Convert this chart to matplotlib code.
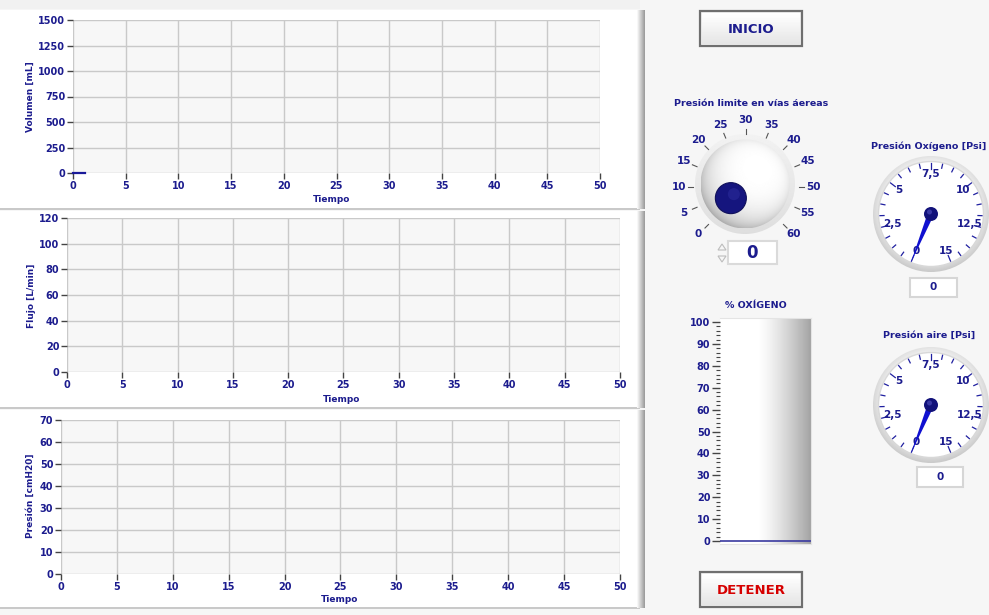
import numpy as np
import matplotlib
matplotlib.use("Agg")
import matplotlib.pyplot as plt
from matplotlib.patches import Rectangle, Circle, Polygon

#-------------------------------------------------------------------------------
# datos del panel

tiempo_ticks = [0, 5, 10, 15, 20, 25, 30, 35, 40, 45, 50]
volumen_ticks = [0, 250, 500, 750, 1000, 1250, 1500]
flujo_ticks = [0, 20, 40, 60, 80, 100, 120]
presion_ticks = [0, 10, 20, 30, 40, 50, 60, 70]

vol_t = [0, 1.1]
vol_v = [0, 0]
flujo_t = []
flujo_v = []
presion_t = []
presion_v = []

knob_labels = [0, 5, 10, 15, 20, 25, 30, 35, 40, 45, 50, 55, 60]
knob_value = 0

gauge_vals = [0, 2.5, 5, 7.5, 10, 12.5, 15]
gauge_text = ["0", "2,5", "5", "7,5", "10", "12,5", "15"]
oxigeno_psi = 0
aire_psi = 0

oxigeno_ticks = [0, 10, 20, 30, 40, 50, 60, 70, 80, 90, 100]
oxigeno_pct = 0

#-------------------------------------------------------------------------------

W, H = 989, 615
NAVY = "#1c1c8e"
plt.rcParams['font.family'] = ['DejaVu Sans']

fig = plt.figure(figsize=(W / 100, H / 100), dpi=100)
fig.patch.set_facecolor("#f6f6f6")

bg = fig.add_axes([0, 0, 1, 1])
bg.set_xlim(0, W)
bg.set_ylim(H, 0)
bg.axis("off")


def px_rect(x0, y0, x1, y1):
    return [x0 / W, 1 - y1 / H, (x1 - x0) / W, (y1 - y0) / H]


def gradient_img(arr, x0, y0, x1, y1, clip=None, cmap="gray"):
    im = bg.imshow(arr, extent=(x0, x1, y1, y0), origin="upper", cmap=cmap,
                   vmin=0, vmax=1, aspect="auto", zorder=2, interpolation="bilinear")
    if clip is not None:
        im.set_clip_path(clip)
    return im


# paneles blancos de las graficas
for (y0, y1) in [(10, 208), (211, 407), (410, 607)]:
    bg.add_patch(Rectangle((0, y0), 638, y1 - y0, facecolor="white", edgecolor="none", zorder=1))
    bg.add_patch(Rectangle((0, y1), 640, 2, facecolor="#c9c9c9", edgecolor="none", zorder=1))
    strip = np.tile(np.linspace(0.97, 0.62, 8), (4, 1))
    gradient_img(strip, 637, y0, 645, y1 + 1)
bg.add_patch(Rectangle((0, 0), 640, 9, facecolor="#f1f1f1", edgecolor="none", zorder=1))

#-------------------------------------------------------------------------------
# graficas


def chart(x0, x1, ytop, ybot, yticks, t, v, ylabel, lx, ly, tx, ty):
    ax = fig.add_axes(px_rect(x0, ytop, x1, ybot))
    ax.set_facecolor("#f7f7f7")
    ax.set_xlim(0, 50)
    ax.set_ylim(yticks[0], yticks[-1])
    ax.set_xticks(tiempo_ticks)
    ax.set_yticks(yticks)
    ax.grid(True, color="#c9c9c9", lw=1)
    ax.set_axisbelow(True)
    for s in ax.spines.values():
        s.set_visible(False)
    ax.tick_params(colors="#444444", labelcolor=NAVY, length=4, width=1,
                   labelsize=7, pad=1.5)
    for lab in ax.get_xticklabels() + ax.get_yticklabels():
        lab.set_fontweight("bold")
    ax.plot(t, v, color="#1a1a9a", lw=1.6, clip_on=False)
    bg.text(lx, ly, ylabel, rotation=90, ha="center", va="center", color=NAVY,
            fontsize=6.5, fontweight="bold", zorder=5)
    bg.text(tx, ty, "Tiempo", ha="center", va="center", color=NAVY,
            fontsize=6.5, fontweight="bold", zorder=5)
    return ax


chart(73, 600, 20, 173, volumen_ticks, vol_t, vol_v, "Volumen [mL]", 30, 97, 332, 200)
chart(67, 620, 218, 372, flujo_ticks, flujo_t, flujo_v, "Flujo [L/min]", 32, 296, 342, 399)
chart(61, 620, 420, 574, presion_ticks, presion_t, presion_v, "Presión [cmH20]", 30, 496, 340, 599)

#-------------------------------------------------------------------------------
# botones


def button(x0, y0, x1, y1, label, color):
    bg.add_patch(Rectangle((x0, y0), x1 - x0, y1 - y0, facecolor="#f3f3f3",
                           edgecolor="#6f6f6f", lw=1.6, zorder=3))
    g = np.tile(np.linspace(1.0, 0.9, 20)[:, None], (1, 4))
    gradient_img(g, x0 + 2, y0 + 2, x1 - 2, y1 - 2).set_zorder(3.5)
    bg.text((x0 + x1) / 2, (y0 + y1) / 2 + 1, label, ha="center", va="center",
            color=color, fontsize=9.5, fontweight="bold", zorder=5)


button(700, 11, 802, 46, "INICIO", NAVY)
button(700, 572, 802, 607, "DETENER", "#d60000")

#-------------------------------------------------------------------------------
# perilla de presion limite

kcx, kcy = 745, 184
lcx, lcy = 746, 187
bg.text(751, 103, "Presión limite en vías áereas", ha="center", va="center",
        color=NAVY, fontsize=6.8, fontweight="bold", zorder=5)


def knob_angle(v):
    return np.radians(-135 + 270 * (v - knob_labels[0]) / (knob_labels[-1] - knob_labels[0]))


for v in knob_labels:
    a = knob_angle(v)
    s, c = np.sin(a), np.cos(a)
    bg.plot([lcx + 53 * s, lcx + 58 * s], [lcy - 53 * c, lcy - 58 * c],
            color="#555555", lw=0.8, zorder=4)
    bg.text(lcx + 67 * s, lcy - 67 * c, str(v), ha="center", va="center",
            color=NAVY, fontsize=7.5, fontweight="bold", zorder=5)

yy, xx = np.mgrid[-1:1:120j, -1:1:120j]
rr = np.sqrt(xx ** 2 + yy ** 2)
halo = Circle((kcx, kcy), 50, transform=bg.transData)
gradient_img(0.91 + 0.04 * (-yy), kcx - 50, kcy - 50, kcx + 50, kcy + 50, clip=halo)
sph = Circle((kcx, kcy), 44.5, transform=bg.transData)
d = np.sqrt((xx - 0.3) ** 2 + (yy + 0.35) ** 2)
shade = 1.0 - 0.24 * (d / 1.45) ** 3 - 0.06 * rr ** 10
gradient_img(np.clip(shade, 0, 1), kcx - 44.5, kcy - 44.5, kcx + 44.5, kcy + 44.5,
             clip=sph).set_zorder(3)

a = knob_angle(knob_value)
dx, dy = kcx + 20 * np.sin(a), kcy - 20 * np.cos(a)
bg.add_patch(Circle((dx, dy), 15.5, facecolor="#15157e", edgecolor="#10105a", lw=0.8, zorder=6))
bg.add_patch(Circle((dx + 3, dy - 4), 6, facecolor="#2a2a9a", edgecolor="none", alpha=0.6, zorder=6))

# control numerico
bg.add_patch(Rectangle((728, 241), 49, 23, facecolor="white", edgecolor="#dadada", lw=1.5, zorder=3))
bg.text(752, 253, str(knob_value), ha="center", va="center", color=NAVY,
        fontsize=12, fontweight="bold", zorder=5)
bg.add_patch(Polygon([[718, 250], [722, 244], [726, 250]], closed=True,
                     facecolor="none", edgecolor="#bdbdbd", lw=0.8, zorder=4))
bg.add_patch(Polygon([[718, 256], [722, 262], [726, 256]], closed=True,
                     facecolor="none", edgecolor="#bdbdbd", lw=0.8, zorder=4))

#-------------------------------------------------------------------------------
# tanque % oxigeno

bg.text(756, 306, "% OXÍGENO", ha="center", va="center", color=NAVY,
        fontsize=6.8, fontweight="bold", zorder=5)
per_px = 100 / (541 - 322)
tk = fig.add_axes(px_rect(720, 318, 811, 544))
tk.set_xlim(0, 1)
tk.set_ylim(-3 * per_px, 100 + 4 * per_px)
gx = np.linspace(0, 1, 200)
tank_shade = np.where(gx < 0.42, 1.0, 1.0 - 0.36 * ((gx - 0.42) / 0.58) ** 1.3)
tk.imshow(np.tile(tank_shade, (4, 1)), extent=(0, 1, 0, 1), transform=tk.transAxes,
          cmap="gray", vmin=0, vmax=1, aspect="auto", zorder=0)
tk.bar(0.5, oxigeno_pct, width=1, color="#1c1c8e", zorder=1)
tk.axhline(oxigeno_pct, color="#3a3aa0", lw=1.2, zorder=2)
tk.set_xticks([])
tk.set_yticks(oxigeno_ticks)
tk.set_yticks(np.arange(0, 101, 2), minor=True)
for s in ["top", "right", "bottom"]:
    tk.spines[s].set_color("#e4e4e4")
tk.spines["left"].set_visible(False)
tk.tick_params(axis="y", which="major", colors="#444444", labelcolor=NAVY,
               length=6, width=1, labelsize=7, pad=1)
tk.tick_params(axis="y", which="minor", colors="#444444", length=3, width=0.8)
for lab in tk.get_yticklabels():
    lab.set_fontweight("bold")

#-------------------------------------------------------------------------------
# manometros


def gauge_angle(v):
    return np.radians(-157.5 + 315 * (v - gauge_vals[0]) / (gauge_vals[-1] - gauge_vals[0]))


def gauge(cx, cy, title, tx, ty, tha, value, box):
    bg.text(tx, ty, title, ha=tha, va="center", color=NAVY, fontsize=6.8,
            fontweight="bold", zorder=5)
    rim = Circle((cx, cy), 58, transform=bg.transData)
    rim_shade = 0.9 + 0.05 * (-yy) - 0.06 * np.clip((rr - 0.9) / 0.1, 0, 1)
    gradient_img(rim_shade, cx - 58, cy - 58, cx + 58, cy + 58, clip=rim)
    bg.add_patch(Circle((cx, cy), 52.5, facecolor="white", edgecolor="#d8d8d8", lw=1.0, zorder=3))
    for v in np.arange(0, 15.01, 0.625):
        a = gauge_angle(v)
        s, c = np.sin(a), np.cos(a)
        r0 = 45 if v % 2.5 == 0 else 47
        bg.plot([cx + r0 * s, cx + 51 * s], [cy - r0 * c, cy - 51 * c],
                color="#2020a0", lw=0.9, zorder=4)
    for v, t in zip(gauge_vals, gauge_text):
        a = gauge_angle(v)
        bg.text(cx + 40 * np.sin(a), cy - 40 * np.cos(a), t, ha="center", va="center",
                color=NAVY, fontsize=7.5, fontweight="bold", zorder=5)
    a = gauge_angle(value)
    s, c = np.sin(a), np.cos(a)
    px, py = -c, -s
    tip = (cx + 53 * s, cy - 53 * c)
    base1 = (cx + 4.5 * px, cy - 4.5 * py)
    base2 = (cx - 4.5 * px, cy + 4.5 * py)
    bg.add_patch(Polygon([base1, tip, base2], closed=True, facecolor="#1010d0",
                         edgecolor="none", zorder=6))
    bg.add_patch(Circle((cx, cy), 7, facecolor="#12127a", edgecolor="none", zorder=7))
    bg.add_patch(Circle((cx - 1.5, cy - 2), 2.5, facecolor="#4a4ab8", edgecolor="none",
                        alpha=0.7, zorder=7))
    bx0, by0, bx1, by1 = box
    bg.add_patch(Rectangle((bx0, by0), bx1 - bx0, by1 - by0, facecolor="white",
                           edgecolor="#d6d6d6", lw=1.5, zorder=3))
    bg.text((bx0 + bx1) / 2, (by0 + by1) / 2, str(value), ha="center", va="center",
            color=NAVY, fontsize=7.5, fontweight="bold", zorder=5)


gauge(931, 214, "Presión Oxígeno [Psi]", 871, 146, "left", oxigeno_psi, (910, 278, 957, 297))
gauge(931, 405, "Presión aire [Psi]", 929, 335, "center", aire_psi, (917, 467, 963, 487))

bg.set_xlim(0, W)
bg.set_ylim(H, 0)

fig.savefig("out.png", dpi=100, facecolor=fig.get_facecolor())
